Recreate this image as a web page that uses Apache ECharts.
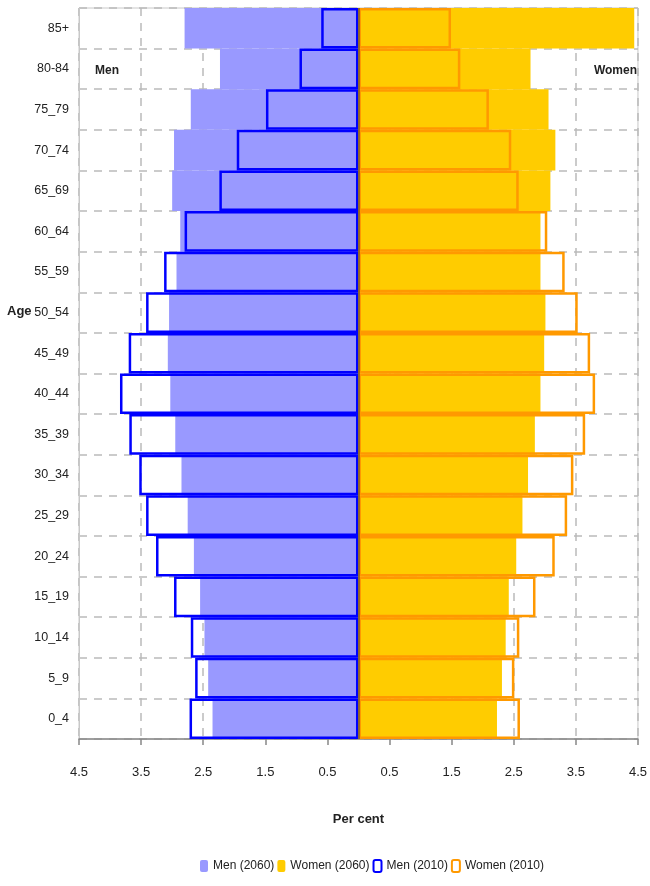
<!DOCTYPE html>
<html>
<head>
<meta charset="utf-8">
<script src="https://cdn.jsdelivr.net/npm/echarts@6/dist/echarts.min.js"></script>
<style>
html,body{margin:0;padding:0;background:#fff;}
#chart{width:650px;height:886px;}
</style>
</head>
<body>
<div id="chart"></div>
<script>
const ageGroups = ['85+','80-84','75_79','70_74','65_69','60_64','55_59','50_54','45_49','40_44','35_39','30_34','25_29','20_24','15_19','10_14','5_9','0_4'];
const men2060   = [2.80,2.23,2.70,2.97,3.00,2.87,2.93,3.05,3.07,3.03,2.95,2.85,2.75,2.65,2.55,2.48,2.42,2.35];
const women2060 = [4.44,2.77,3.06,3.17,3.09,2.93,2.93,3.01,2.99,2.93,2.84,2.73,2.64,2.54,2.42,2.37,2.31,2.23];
const men2010   = [0.60,0.95,1.49,1.96,2.24,2.80,3.13,3.42,3.70,3.84,3.69,3.53,3.42,3.26,2.97,2.70,2.63,2.72];
const women2010 = [1.49,1.64,2.10,2.46,2.58,3.04,3.32,3.53,3.73,3.81,3.65,3.46,3.36,3.16,2.85,2.59,2.51,2.60];
const xTicks = [-4.5,-3.5,-2.5,-1.5,-0.5,0.5,1.5,2.5,3.5,4.5];

const FONT = "'Liberation Sans Narrow','Arial Narrow','Liberation Sans',Arial,sans-serif";
const chart = echarts.init(document.getElementById('chart'), null, {renderer:'canvas'});
const neg = a => a.map(v => -v);

chart.setOption({
  animation:false,
  textStyle:{fontFamily:FONT},
  grid:{left:79,right:9,top:8,bottom:147,show:true,borderColor:'#c8c8c8',borderWidth:1,containLabel:false},
  legend:{
    left:200, top:859, itemWidth:8, itemHeight:12, itemGap:3, padding:0,
    textStyle:{fontFamily:FONT,fontSize:12,color:'#222'},
    data:['Men (2060)','Women (2060)','Men (2010)','Women (2010)']
  },
  xAxis:{
    type:'value', min:-4.5, max:4.5,
    name:'Per cent', nameLocation:'middle', nameGap:74,
    nameTextStyle:{fontFamily:FONT,fontSize:13,fontWeight:'bold',color:'#222'},
    axisLine:{show:true,onZero:false,lineStyle:{color:'#888',width:1.5}},
    axisTick:{show:true,length:6,lineStyle:{color:'#888',width:1.5},customValues:xTicks},
    axisLabel:{customValues:xTicks,formatter:v=>Math.abs(v).toFixed(1),fontFamily:FONT,fontSize:13,color:'#222',margin:27},
    splitLine:{show:true,lineStyle:{color:'#bbb',type:[8,7],width:1.5}}
  },
  yAxis:{
    type:'category', data:ageGroups, inverse:true,
    axisLine:{show:true,onZero:false,lineStyle:{color:'#c8c8c8'}},
    axisTick:{show:false},
    axisLabel:{fontFamily:FONT,fontSize:12.5,color:'#222',margin:10},
    splitLine:{show:true,lineStyle:{color:'#bbb',type:[8,7],width:1.5}}
  },
  graphic:[
    {type:'text',left:7,top:305,style:{text:'Age',fontFamily:FONT,fontSize:13,fontWeight:'bold',fill:'#222'}},
    {type:'text',left:95,top:65,style:{text:'Men',fontFamily:FONT,fontSize:12,fontWeight:'bold',fill:'#222'}},
    {type:'text',right:13,top:65,style:{text:'Women',fontFamily:FONT,fontSize:12,fontWeight:'bold',fill:'#222'}}
  ],
  series:[
    {name:'Men (2060)',type:'bar',data:neg(men2060),barWidth:'100%',barGap:'-100%',
     itemStyle:{color:'#9999ff'},z:2},
    {name:'Women (2060)',type:'bar',data:women2060,barWidth:'100%',barGap:'-100%',
     itemStyle:{color:'#ffcc00'},z:2,
     markLine:{silent:true,symbol:'none',label:{show:false},lineStyle:{color:'#7a5c28',type:'solid',width:1.5},data:[{xAxis:0}],z:5}},
    {name:'Men (2010)',type:'bar',data:neg(men2010),barWidth:'100%',barGap:'-100%',
     itemStyle:{color:'rgba(0,0,0,0)',borderColor:'#0000ff',borderWidth:2.5},z:3},
    {name:'Women (2010)',type:'bar',data:women2010,barWidth:'100%',barGap:'-100%',
     itemStyle:{color:'rgba(0,0,0,0)',borderColor:'#ff9900',borderWidth:2.5},z:3}
  ]
});
</script>
</body>
</html>
